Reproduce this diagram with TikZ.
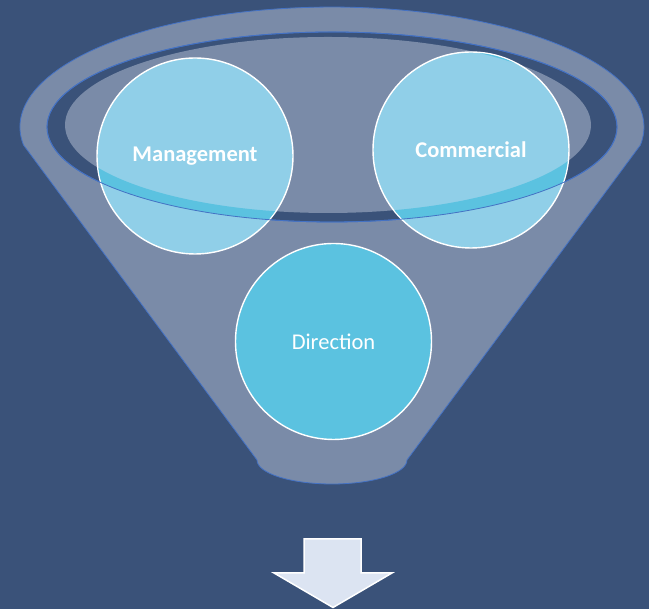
\documentclass[tikz,border=0pt]{standalone}
\usepackage{fontspec}
\newfontfamily\calib{Carlito}
\definecolor{bgblue}{RGB}{58,82,121}
\definecolor{funnelgrey}{RGB}{122,139,168}
\definecolor{lightcirc}{RGB}{144,207,232}
\definecolor{cyancirc}{RGB}{91,194,224}
\definecolor{rimblue}{RGB}{68,114,196}
\definecolor{arrowfill}{RGB}{220,228,242}
\tikzset{
	bubble/.style={circle, minimum size=196pt, inner sep=0pt, draw=white, line width=1.4pt, text=white},
	rim/.style={draw=rimblue, line width=0.8pt}
}
\begin{document}
\begin{tikzpicture}[x=1pt, y=1pt]
	\fill[bgblue] (0,0) rectangle (649,609);
	\useasboundingbox (0,0) rectangle (649,609);

	% funnel body
	\fill[funnelgrey] (257,149) -- (23.5,464) arc[start angle=188.6, end angle=-8.6, x radius=312, y radius=120]
		-- (407,149) arc[start angle=0, end angle=-180, x radius=75, y radius=24] -- cycle;
	\draw[rim] (257,149) -- (23.5,464) arc[start angle=188.6, end angle=-8.6, x radius=312, y radius=120]
		-- (407,149) arc[start angle=0, end angle=-180, x radius=75, y radius=24];

	% dark ring
	\coordinate (ringc) at (332,482);
	\coordinate (innerc) at (328,484);
	\fill[bgblue] (ringc) ellipse [x radius=285, y radius=95];
	\draw[rim] (ringc) ellipse [x radius=285, y radius=95];
	\fill[funnelgrey] (innerc) ellipse [x radius=263, y radius=88];

	% upper circles
	\node[bubble, fill=lightcirc] (mgmt) at (195,453) {};
	\node[bubble, fill=lightcirc] (comm) at (471,459) {};
	\foreach \c in {mgmt, comm}
	{
		\begin{scope}
			\clip (\c.center) circle (97.3);
			\fill[cyancirc, even odd rule] (ringc) ellipse [x radius=285, y radius=95]
				(innerc) ellipse [x radius=263, y radius=88];
		\end{scope}
	}
	\draw[rim] (ringc) ellipse [x radius=285, y radius=95];

	% lower circle
	\node[bubble, fill=cyancirc] (dir) at (333.5,267.5) {};

	\node[text=white, font=\calib\bfseries\fontsize{22.5}{27}\selectfont] (mgmtlabel) at (mgmt.center) {Management};
	\node[text=white, font=\calib\bfseries\fontsize{22.5}{27}\selectfont] (commlabel) at (comm.center) {Commercial};
	\node[text=white, font=\calib\fontsize{22.5}{27}\selectfont] (dirlabel) at (dir.center) {Direction};

	% arrow
	\draw[draw=white, line width=1.5pt, fill=arrowfill, line join=miter]
		(304,70) -- (361,70) -- (361,36) -- (392,36) -- (333,1.5) -- (274,36) -- (304,36) -- cycle;
\end{tikzpicture}
\end{document}
